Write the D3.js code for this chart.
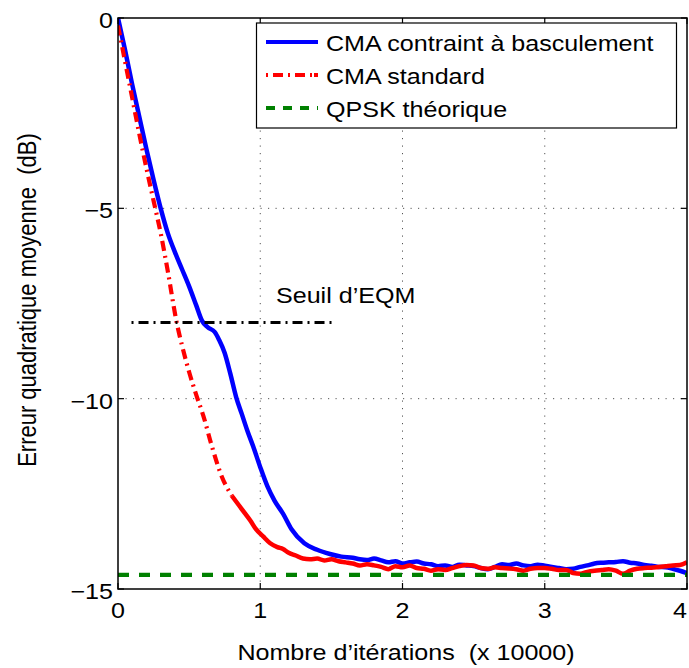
<!DOCTYPE html>
<html>
<head>
<meta charset="utf-8">
<script src="https://cdn.jsdelivr.net/npm/d3@7"></script>
<style>
  html, body { margin: 0; padding: 0; background: #fff; }
  svg { display: block; }
  text { font-family: "Liberation Sans", Arial, Helvetica, sans-serif; fill: #000; white-space: pre; }
</style>
</head>
<body>
<svg id="chart" width="689" height="668"></svg>
<script>
// Iterations (x 10000) and MSE (dB) for the constrained (switching) CMA
const blueX = [0, 0.05, 0.1, 0.15, 0.2, 0.25, 0.3, 0.35, 0.4, 0.45, 0.5, 0.55, 0.59, 0.63, 0.68, 0.71, 0.75, 0.79, 0.83, 0.87, 0.91, 0.95, 1.0, 1.05, 1.1, 1.16, 1.22, 1.31, 1.4, 1.49, 1.57,
  1.65, 1.7, 1.75, 1.8, 1.85, 1.9, 1.95, 2.0, 2.05, 2.1, 2.15, 2.2, 2.25, 2.3, 2.35, 2.4, 2.45, 2.5, 2.55, 2.6, 2.65, 2.7, 2.75, 2.8, 2.85, 2.9, 2.95, 3.0, 3.05, 3.1, 3.15, 3.2, 3.25, 3.3, 3.35, 3.4, 3.45, 3.5, 3.55, 3.6, 3.65, 3.7, 3.75, 3.8, 3.85, 3.9, 3.95, 4.0];
const blueY = [0, -0.85, -1.75, -2.6, -3.45, -4.25, -5.0, -5.65, -6.15, -6.6, -7.05, -7.55, -7.95, -8.12, -8.25, -8.45, -8.8, -9.35, -9.95, -10.4, -10.85, -11.25, -11.8, -12.3, -12.68, -13.02, -13.43, -13.8, -13.97, -14.08, -14.15,
  -14.18, -14.22, -14.24, -14.2, -14.25, -14.3, -14.27, -14.33, -14.3, -14.28, -14.33, -14.35, -14.4, -14.38, -14.42, -14.36, -14.38, -14.4, -14.45, -14.48, -14.42, -14.35, -14.37, -14.33, -14.38, -14.4, -14.36, -14.39, -14.42, -14.45, -14.48, -14.47, -14.42, -14.38, -14.33, -14.31, -14.3, -14.29, -14.27, -14.31, -14.33, -14.37, -14.39, -14.42, -14.43, -14.47, -14.52, -14.58];

// Standard CMA
const redX = [0, 0.05, 0.1, 0.15, 0.2, 0.25, 0.3, 0.35, 0.41, 0.46, 0.5, 0.55, 0.6, 0.66, 0.73, 0.8, 0.85, 0.89, 0.93, 0.97, 1.02, 1.07, 1.12, 1.16, 1.2, 1.25, 1.3, 1.35, 1.4, 1.45, 1.5, 1.55, 1.6,
  1.65, 1.7, 1.75, 1.8, 1.85, 1.9, 1.95, 2.0, 2.05, 2.1, 2.15, 2.2, 2.25, 2.3, 2.35, 2.4, 2.45, 2.5, 2.55, 2.6, 2.65, 2.7, 2.75, 2.8, 2.85, 2.9, 2.95, 3.0, 3.05, 3.1, 3.15, 3.2, 3.25, 3.3, 3.35, 3.4, 3.45, 3.5, 3.55, 3.6, 3.65, 3.7, 3.75, 3.8, 3.85, 3.9, 3.95, 4.0];
const redY = [-0.2, -1.15, -2.1, -3.05, -3.95, -4.8, -5.65, -6.65, -7.95, -8.75, -9.3, -9.9, -10.45, -11.25, -12.05, -12.55, -12.8, -13.0, -13.2, -13.43, -13.62, -13.8, -13.9, -13.95, -14.05, -14.12, -14.2, -14.22, -14.2, -14.25, -14.22, -14.27, -14.3,
  -14.33, -14.38, -14.35, -14.38, -14.42, -14.48, -14.4, -14.43, -14.38, -14.45, -14.47, -14.52, -14.48, -14.5, -14.45, -14.4, -14.37, -14.38, -14.45, -14.47, -14.43, -14.45, -14.46, -14.48, -14.52, -14.47, -14.45, -14.45, -14.47, -14.5, -14.5, -14.58, -14.6, -14.55, -14.52, -14.5, -14.48, -14.52, -14.6, -14.52, -14.47, -14.45, -14.44, -14.42, -14.4, -14.38, -14.37, -14.3];

// Theoretical QPSK floor and MSE threshold
const qpskX = [0, 4];
const qpskY = [-14.63, -14.63];
const seuilX = [0.095, 1.53];
const seuilY = [-8, -8];
const seuilLabel = "Seuil d\u2019EQM";

const xTicks = [0, 1, 2, 3, 4];
const yTicks = [0, -5, -10, -15];
const xTickLabels = ["0", "1", "2", "3", "4"];
const yTickLabels = ["0", "\u22125", "\u221210", "\u221215"];
const seriesNames = ["CMA contraint \u00e0 basculement", "CMA standard", "QPSK th\u00e9orique"];
const xTitle = "Nombre d\u2019it\u00e9rations  (x 10000)";
const yTitle = "Erreur quadratique moyenne  (dB)";

const svg = d3.select("#chart");
const L = 118, R = 687, T = 18, B = 589;
const SX = 1.14; // horizontal glyph stretch
const FS = 22;

const x = d3.scaleLinear().domain([0, 4]).range([L, R]);
const y = d3.scaleLinear().domain([-15, 0]).range([B, T]);

function label(g, px, py, txt, anchor) {
  return g.append("text")
    .attr("transform", `translate(${px},${py}) scale(${SX},1)`)
    .attr("text-anchor", anchor || "start")
    .attr("font-size", FS)
    .attr("xml:space", "preserve")
    .text(txt);
}

// grid
const grid = svg.append("g");
grid.selectAll("line.gx").data(xTicks.slice(1, -1)).enter().append("line")
  .attr("x1", d => x(d)).attr("x2", d => x(d)).attr("y1", T).attr("y2", B)
  .attr("stroke", "#555").attr("stroke-width", 1).attr("stroke-dasharray", "1.2,6.3");
grid.selectAll("line.gy").data(yTicks.slice(1, -1)).enter().append("line")
  .attr("y1", d => y(d)).attr("y2", d => y(d)).attr("x1", L).attr("x2", R)
  .attr("stroke", "#555").attr("stroke-width", 1).attr("stroke-dasharray", "1.2,6.3");

// series
svg.append("clipPath").attr("id", "plotclip").append("rect")
  .attr("x", L).attr("y", T - 3).attr("width", R - L).attr("height", B - T + 3);
const plot = svg.append("g").attr("clip-path", "url(#plotclip)");
const smooth = d3.line().x(d => x(d[0])).y(d => y(d[1])).curve(d3.curveMonotoneX);
const line = d3.line().x(d => x(d[0])).y(d => y(d[1]));

const blue = blueX.map((v, i) => [v, blueY[i]]);
const red = redX.map((v, i) => [v, redY[i]]);
const redSplit = 0.8;

plot.append("path").datum(blue).attr("d", smooth)
  .attr("fill", "none").attr("stroke", "#0000ff").attr("stroke-width", 4.5).attr("stroke-linejoin", "round");
plot.append("path").datum(red.filter(d => d[0] <= redSplit)).attr("d", smooth)
  .attr("fill", "none").attr("stroke", "#ff0000").attr("stroke-width", 4.2)
  .attr("stroke-dasharray", "10,5,2,5");
plot.append("path").datum(red.filter(d => d[0] >= redSplit)).attr("d", smooth)
  .attr("fill", "none").attr("stroke", "#ff0000").attr("stroke-width", 4.5).attr("stroke-linejoin", "round");
plot.append("path").datum(qpskX.map((v, i) => [v, qpskY[i]])).attr("d", line)
  .attr("fill", "none").attr("stroke", "#008000").attr("stroke-width", 4.2)
  .attr("stroke-dasharray", "11,10");
plot.append("path").datum(seuilX.map((v, i) => [v, seuilY[i]])).attr("d", line)
  .attr("fill", "none").attr("stroke", "#000").attr("stroke-width", 3)
  .attr("stroke-dasharray", "2,5,10,5");

label(svg, 276, 303, seuilLabel);

// axes box and inward ticks
const ax = svg.append("g");
ax.append("rect").attr("x", L).attr("y", T).attr("width", R - L).attr("height", B - T)
  .attr("fill", "none").attr("stroke", "#000").attr("stroke-width", 1.5);
const tl = 6;
xTicks.forEach(t => {
  ax.append("line").attr("x1", x(t)).attr("x2", x(t)).attr("y1", B).attr("y2", B - tl).attr("stroke", "#000").attr("stroke-width", 1.2);
  ax.append("line").attr("x1", x(t)).attr("x2", x(t)).attr("y1", T).attr("y2", T + tl).attr("stroke", "#000").attr("stroke-width", 1.2);
});
yTicks.forEach(t => {
  ax.append("line").attr("x1", L).attr("x2", L + tl).attr("y1", y(t)).attr("y2", y(t)).attr("stroke", "#000").attr("stroke-width", 1.2);
  ax.append("line").attr("x1", R).attr("x2", R - tl).attr("y1", y(t)).attr("y2", y(t)).attr("stroke", "#000").attr("stroke-width", 1.2);
});
xTicks.forEach((t, i) => label(ax, Math.min(x(t), 680), 618, xTickLabels[i], "middle"));
yTicks.forEach((t, i) => label(ax, 113, y(t) + 10, yTickLabels[i], "end"));

label(svg, 406, 660, xTitle, "middle");
svg.append("text")
  .attr("transform", `translate(36,300) scale(${SX},1) rotate(-90)`)
  .attr("text-anchor", "middle").attr("font-size", FS).attr("xml:space", "preserve").text(yTitle);

// legend
const lg = svg.append("g");
lg.append("rect").attr("x", 256.5).attr("y", 23).attr("width", 420).attr("height", 105)
  .attr("fill", "#fff").attr("stroke", "#000").attr("stroke-width", 1.2);
const styles = [
  { c: "#0000ff", w: 4.2, dash: null },
  { c: "#ff0000", w: 4, dash: "2,5,10,5,2,5,10,5,2" },
  { c: "#008000", w: 4.2, dash: "9,8" }
];
seriesNames.forEach((name, i) => {
  const cy = 42 + i * 33;
  const s = styles[i];
  const ln = lg.append("line").attr("x1", 266).attr("x2", 318).attr("y1", cy).attr("y2", cy)
    .attr("stroke", s.c).attr("stroke-width", s.w);
  if (s.dash) ln.attr("stroke-dasharray", s.dash);
  label(lg, 326, cy + 8.7, name);
});
</script>
</body>
</html>
